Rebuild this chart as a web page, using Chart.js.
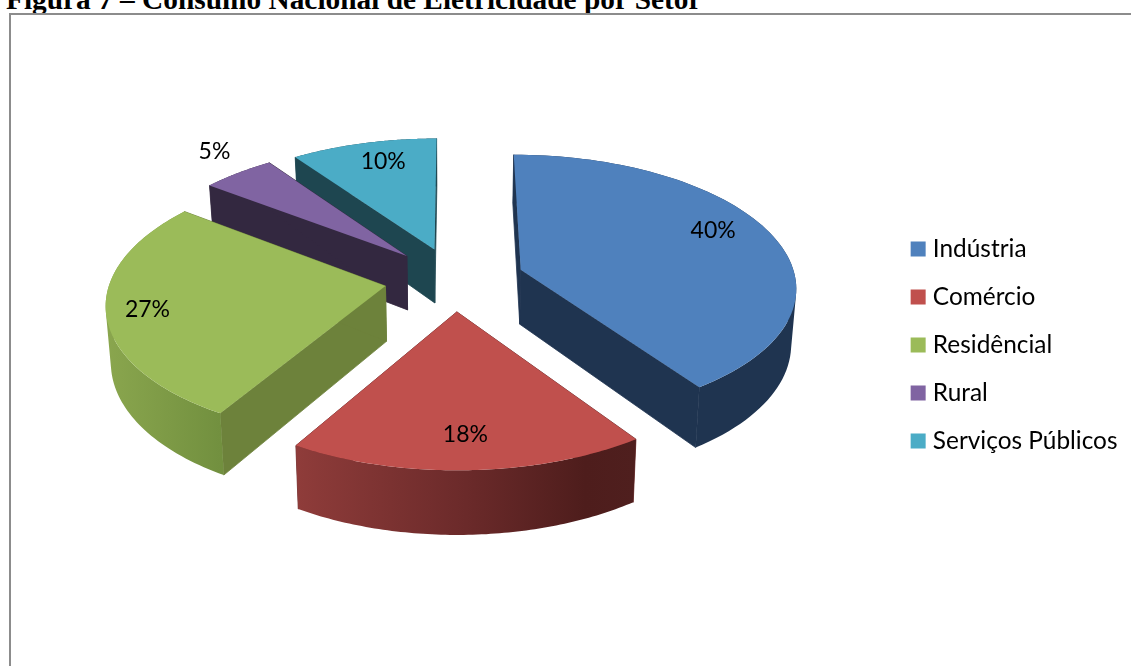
<!DOCTYPE html>
<html>
<head>
<meta charset="utf-8">
<script src="https://cdn.jsdelivr.net/npm/chart.js@4/dist/chart.umd.min.js"></script>
<style>
  html, body { margin: 0; background: #fff; overflow: hidden; }
  #title {
    position: absolute; left: 6px; top: -16px; white-space: nowrap; line-height: 30px;
    font-family: "Liberation Serif", serif; font-weight: bold; font-size: 29.35px; color: #000;
  }
  #frame {
    position: absolute; left: 9px; top: 13px; width: 1200px; height: 700px;
    border: 2px solid #8c8c8c;
  }
  canvas { position: absolute; left: 0; top: 0; }
</style>
</head>
<body>
<div id="title">Figura 7 – Consumo Nacional de Eletricidade por Setor</div>
<div id="frame"></div>
<canvas id="myChart" width="1131" height="666"></canvas>
<script>
const categories = ["Indústria", "Comércio", "Residêncial", "Rural", "Serviços Públicos"];
const shares = [40.4, 18.1, 26.8, 4.9, 9.8];

// colours per slice
const topColors = ["#4f81bd", "#c0504d", "#9bbb59", "#8064a2", "#4bacc6"];
const wallColors = ["#1f3450", "#6b2a2a", "#6d823b", "#332840", "#1e4650"];
const rimStops = [
  [[0, "#1f3450"], [1, "#1f3450"]],
  [[0, "#8f3c3a"], [0.5, "#6b2a2a"], [0.85, "#4e1d1c"], [1, "#4f1f1e"]],
  [[0, "#8aa64e"], [1, "#72903f"]],
  [[0, "#332840"], [1, "#332840"]],
  [[0, "#1e4650"], [1, "#1e4650"]],
];

// how far each slice is pulled out, as px of chart.js offset
const explode = [140, 132, 140, 140, 136];
// label place: fraction of radius from the slice tip, and turn from its middle (deg)
const labelRadius = [0.807, 0.8, 0.855, 1.23, 0.8];
const labelTurn = [-5.9, 0.1, -0.7, 2.8, 2.0];
// back to front
const drawOrder = [4, 3, 2, 0, 1];

const pieRadius = 275;
const squash = 131 / 275;
const persp = 0.12;
const depth = 55;
const liftX = 8.5;
const liftY = -65.5;

function projector(arc) {
  const cx = arc.x + liftX;
  const cy = arc.y + liftY;
  return (u, v) => {
    const s = 1 / (1 - persp * v);
    const x = cx + pieRadius * u * s;
    const y = cy + pieRadius * squash * v * s;
    return { x, y, bx: cx + (x - cx) * 0.985, by: y + depth * s };
  };
}

function drawSlice(ctx, arc, i) {
  const proj = projector(arc);
  const mid = (arc.startAngle + arc.endAngle) / 2;
  const off = arc.options.offset / 2 / arc.outerRadius;
  const ou = Math.cos(mid) * off;
  const ov = Math.sin(mid) * off;
  const tip = proj(ou, ov);
  const rim = [];
  const steps = 80;
  for (let k = 0; k <= steps; k++) {
    const a = arc.startAngle + (arc.endAngle - arc.startAngle) * k / steps;
    rim.push(proj(ou + Math.cos(a), ov + Math.sin(a)));
  }
  // the two cut walls
  ctx.fillStyle = wallColors[i];
  ctx.strokeStyle = wallColors[i];
  ctx.lineWidth = 0.8;
  [rim[0], rim[steps]].forEach((p) => {
    ctx.beginPath();
    ctx.moveTo(tip.x, tip.y);
    ctx.lineTo(p.x, p.y);
    ctx.lineTo(p.bx, p.by);
    ctx.lineTo(tip.bx, tip.by);
    ctx.closePath();
    ctx.fill();
    ctx.stroke();
  });
  // outer wall: quads all wound the same way in one path, so no seams and the
  // silhouette stays filled at the sides
  const xs = rim.map((p) => p.x);
  const grad = ctx.createLinearGradient(Math.min(...xs), 0, Math.max(...xs), 0);
  rimStops[i].forEach((s) => grad.addColorStop(s[0], s[1]));
  ctx.fillStyle = grad;
  ctx.beginPath();
  for (let k = 0; k < steps; k++) {
    const p = rim[k];
    const q = rim[k + 1];
    let quad = [[p.x, p.y], [q.x, q.y], [q.bx, q.by], [p.bx, p.by]];
    let area = 0;
    quad.forEach((a, n) => {
      const b = quad[(n + 1) % 4];
      area += a[0] * b[1] - b[0] * a[1];
    });
    if (area < 0) quad = quad.reverse();
    quad.forEach((c, n) => (n ? ctx.lineTo(c[0], c[1]) : ctx.moveTo(c[0], c[1])));
    ctx.closePath();
  }
  ctx.fill();
  // top face
  ctx.fillStyle = topColors[i];
  ctx.beginPath();
  ctx.moveTo(tip.x, tip.y);
  rim.forEach((p) => ctx.lineTo(p.x, p.y));
  ctx.closePath();
  ctx.fill();
}

function drawLabel(ctx, arc, i, total) {
  const proj = projector(arc);
  const mid = (arc.startAngle + arc.endAngle) / 2;
  const off = arc.options.offset / 2 / arc.outerRadius;
  const a = mid + labelTurn[i] * Math.PI / 180;
  const p = proj(
    Math.cos(mid) * off + Math.cos(a) * labelRadius[i],
    Math.sin(mid) * off + Math.sin(a) * labelRadius[i]
  );
  ctx.fillStyle = "#000";
  ctx.font = "23px Lato";
  ctx.textAlign = "center";
  ctx.textBaseline = "middle";
  ctx.fillText(Math.round(shares[i] / total * 100) + "%", p.x, p.y);
}

const pie3d = {
  id: "pie3d",
  beforeDatasetsDraw(chart) {
    const ctx = chart.ctx;
    const arcs = chart.getDatasetMeta(0).data;
    const total = shares.reduce((a, b) => a + b, 0);
    ctx.save();
    drawOrder.forEach((i) => drawSlice(ctx, arcs[i], i));
    arcs.forEach((arc, i) => drawLabel(ctx, arc, i, total));
    ctx.restore();
    return false;
  },
};

new Chart(document.getElementById("myChart").getContext("2d"), {
  type: "pie",
  data: {
    labels: categories,
    datasets: [
      {
        data: shares,
        backgroundColor: topColors,
        offset: explode,
        borderWidth: 0,
      },
    ],
  },
  options: {
    responsive: false,
    animation: false,
    radius: pieRadius,
    layout: { padding: { top: 24, right: 3.5 } },
    plugins: {
      tooltip: { enabled: false },
      legend: {
        position: "right",
        align: "center",
        labels: {
          boxWidth: 5,
          boxHeight: 5,
          padding: 23.6,
          color: "#000",
          font: { family: "Lato", size: 24.4 },
          generateLabels(chart) {
            return Chart.overrides.pie.plugins.legend.labels
              .generateLabels(chart)
              .map((l) => ({ ...l, lineWidth: 10, strokeStyle: l.fillStyle }));
          },
        },
      },
    },
  },
  plugins: [pie3d],
});
</script>
</body>
</html>
